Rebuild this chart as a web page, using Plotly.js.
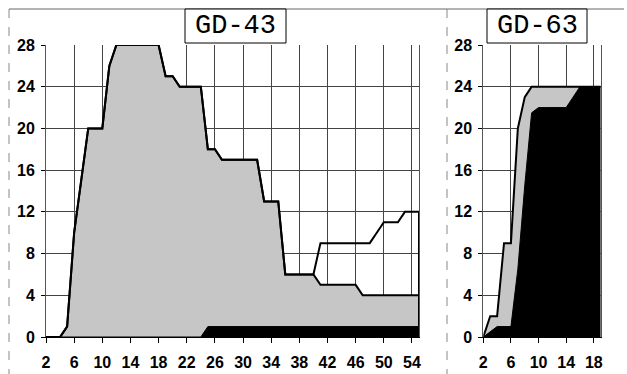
<!DOCTYPE html>
<html>
<head>
<meta charset="utf-8">
<script src="https://cdn.plot.ly/plotly-3.0.1.min.js"></script>
<style>html,body{margin:0;padding:0;background:#fff;}#chart{width:627px;height:374px;}</style>
</head>
<body>
<div id="chart"></div>
<script>
// ---- GD-43 (left panel) ----
const gd43X     = [2,3,4,5,6,7,8,9,10,11,12,13,14,15,16,17,18,19,20,21,22,23,24,25,26,27,28,29,30,31,32,33,34,35,36,37,38,39,40,41,42,43,44,45,46,47,48,49,50,51,52,53,54,55];
const gd43Total = [0,0,0,1,10,15,20,20,20,26,28,28,28,28,28,28,28,25,25,24,24,24,24,18,18,17,17,17,17,17,17,13,13,13,6,6,6,6,6,9,9,9,9,9,9,9,9,10,11,11,11,12,12,12];
const gd43Grey  = [0,0,0,1,10,15,20,20,20,26,28,28,28,28,28,28,28,25,25,24,24,24,24,18,18,17,17,17,17,17,17,13,13,13,6,6,6,6,6,5,5,5,5,5,5,4,4,4,4,4,4,4,4,4];
const gd43Black = [0,0,0,0,0,0,0,0,0,0,0,0,0,0,0,0,0,0,0,0,0,0,0,1,1,1,1,1,1,1,1,1,1,1,1,1,1,1,1,1,1,1,1,1,1,1,1,1,1,1,1,1,1,1];

// ---- GD-63 (right panel) ----
const gd63X     = [2,3,4,5,6,7,8,9,10,11,12,13,14,15,16,17,18,19];
const gd63Total = [0,2,2,9,9,20,23,24,24,24,24,24,24,24,24,24,24,24];
const gd63Black = [0,0.5,1,1,1,6.5,14.5,21.5,22,22,22,22,22,23,24,24,24,24];

const panelTitles = ["GD-43", "GD-63"];
const yTicks = [0,4,8,12,16,20,24,28];
const xTicks43 = [2,6,10,14,18,22,26,30,34,38,42,46,50,54];
const xTicks63 = [2,6,10,14,18];

const GREY = '#c6c6c6';
const W = 627, H = 374;
const px = v => v / W;
const py = v => 1 - v / H;

function closeRight(xs, ys) {
  return {x: xs.concat([xs[xs.length-1]]), y: ys.concat([0])};
}
const t43 = closeRight(gd43X, gd43Total);

const traces = [
  {x: gd43X, y: gd43Grey, xaxis:'x', yaxis:'y', mode:'lines', fill:'tozeroy', fillcolor:GREY,
   line:{color:'#000', width:2}, hoverinfo:'skip', showlegend:false},
  {x: gd43X, y: gd43Black, xaxis:'x', yaxis:'y', mode:'lines', fill:'tozeroy', fillcolor:'#000',
   line:{color:'#000', width:1}, hoverinfo:'skip', showlegend:false},
  {x: t43.x, y: t43.y, xaxis:'x', yaxis:'y', mode:'lines',
   line:{color:'#000', width:2}, hoverinfo:'skip', showlegend:false},

  {x: gd63X, y: gd63Total, xaxis:'x2', yaxis:'y2', mode:'lines', fill:'tozeroy', fillcolor:GREY,
   line:{color:'#000', width:2}, hoverinfo:'skip', showlegend:false},
  {x: gd63X, y: gd63Black, xaxis:'x2', yaxis:'y2', mode:'lines', fill:'tozeroy', fillcolor:'#000',
   line:{color:'#000', width:1}, hoverinfo:'skip', showlegend:false}
];

const tickFont = {family:'Liberation Sans, Arial, sans-serif', size:16, color:'#000', weight:'bold'};
function xAx(domain, range, ticks) {
  return {domain, range, tickvals:ticks, ticktext:ticks.map(String), showgrid:true, gridcolor:'#444', gridwidth:1,
    zeroline:false, showline:true, linecolor:'#000', linewidth:1, ticks:'outside', ticklen:5, tickcolor:'#000',
    tickfont:tickFont, ticklabelstandoff:6, fixedrange:true};
}
function yAx(domain, anchor) {
  return {domain, range:[0,28], tickvals:yTicks, ticktext:yTicks.map(String), showgrid:true, gridcolor:'#444', gridwidth:1,
    zeroline:false, showline:true, linecolor:'#555', linewidth:1, mirror:true, ticks:'outside', ticklen:4, tickcolor:'#000',
    tickfont:tickFont, ticklabelstandoff:3, anchor, fixedrange:true};
}

const yDom = [py(337), py(45)];
const layout = {
  width: W, height: H,
  margin:{l:0,r:0,t:0,b:0},
  paper_bgcolor:'#fff', plot_bgcolor:'#fff',
  showlegend:false,
  xaxis: xAx([px(46), px(419)], [2,55], xTicks43),
  yaxis: yAx(yDom, 'x'),
  xaxis2: Object.assign(xAx([px(483.3), px(600.7)], [2,19], xTicks63), {anchor:'y2'}),
  yaxis2: yAx(yDom, 'x2'),
  shapes: [
    {type:'line', xref:'paper', yref:'paper', x0:px(9), x1:px(624), y0:py(9), y1:py(9), line:{color:'#666', width:1}},
    {type:'line', xref:'paper', yref:'paper', x0:px(9), x1:px(9), y0:py(9), y1:0, line:{color:'#888', width:1, dash:'dash'}},
    {type:'line', xref:'paper', yref:'paper', x0:px(447), x1:px(447), y0:py(9), y1:0, line:{color:'#888', width:1, dash:'dash'}},
    {type:'rect', xref:'paper', yref:'paper', x0:px(185), x1:px(286), y0:py(43), y1:py(9), fillcolor:'#fff', line:{color:'#000', width:1}},
    {type:'rect', xref:'paper', yref:'paper', x0:px(487), x1:px(587), y0:py(43), y1:py(9), fillcolor:'#fff', line:{color:'#000', width:1}}
  ],
  annotations: [
    {text: panelTitles[0], xref:'paper', yref:'paper', x:px(235.5), y:py(26), xanchor:'center', yanchor:'middle', showarrow:false,
     font:{family:'Liberation Mono, DejaVu Sans Mono, monospace', size:27, color:'#000'}},
    {text: panelTitles[1], xref:'paper', yref:'paper', x:px(537), y:py(26), xanchor:'center', yanchor:'middle', showarrow:false,
     font:{family:'Liberation Mono, DejaVu Sans Mono, monospace', size:27, color:'#000'}}
  ]
};

Plotly.newPlot('chart', traces, layout, {staticPlot:true, displayModeBar:false});
</script>
</body>
</html>
